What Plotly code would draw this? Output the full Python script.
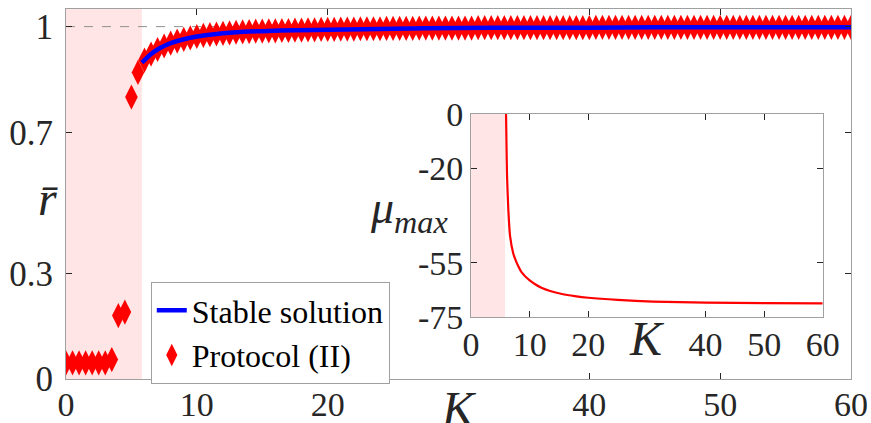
import plotly.graph_objects as go

# ---------------- data ----------------
K_protocol = [i * 0.5 for i in range(121)]  # 0, 0.5, ..., 60
r_protocol = [
    0.046, 0.046, 0.046, 0.046, 0.046, 0.046, 0.046, 0.055,   # 0 .. 3.5
    0.180, 0.190, 0.800, 0.870,                               # 4 .. 5.5
    0.905, 0.922, 0.935, 0.945, 0.953, 0.959, 0.964, 0.968,   # 6 .. 9.5
    0.972, 0.975, 0.977, 0.979, 0.981, 0.982, 0.984, 0.985,   # 10 .. 13.5
    0.986, 0.987, 0.987, 0.988, 0.988, 0.989, 0.989, 0.990,   # 14 .. 17.5
    0.990, 0.991, 0.991, 0.992, 0.992, 0.992, 0.993, 0.993,   # 18 .. 21.5
    0.993, 0.994, 0.994, 0.994, 0.994, 0.995, 0.995, 0.995,   # 22 .. 25.5
    0.995, 0.995, 0.996, 0.996, 0.996, 0.996, 0.996, 0.996,   # 26 .. 29.5
    0.996, 0.996, 0.996, 0.997, 0.997, 0.997, 0.997, 0.997,   # 30 .. 33.5
    0.997, 0.997, 0.997, 0.997, 0.997, 0.997, 0.997, 0.997,   # 34 .. 37.5
    0.997, 0.997, 0.997, 0.997, 0.997, 0.998, 0.998, 0.998,   # 38 .. 41.5
    0.998, 0.998, 0.998, 0.998, 0.998, 0.998, 0.998, 0.998,   # 42 .. 45.5
    0.998, 0.998, 0.998, 0.998, 0.998, 0.998, 0.998, 0.998,   # 46 .. 49.5
    0.998, 0.998, 0.998, 0.998, 0.998, 0.998, 0.998, 0.998,   # 50 .. 53.5
    0.998, 0.998, 0.998, 0.998, 0.998, 0.998, 0.998, 0.998,   # 54 .. 57.5
    0.998, 0.998, 0.998, 0.998, 0.998,                        # 58 .. 60
]

K_stable = [5.8, 6.0, 6.5, 7.0, 7.5, 8.0, 9.0, 10.0, 11.0, 12.0, 13.0, 14.0,
            15.0, 17.5, 20.0, 25.0, 30.0, 35.0, 40.0, 45.0, 50.0, 55.0, 60.0]
r_stable = [0.898, 0.905, 0.922, 0.935, 0.945, 0.953, 0.964, 0.972, 0.977,
            0.981, 0.984, 0.986, 0.987, 0.990, 0.991, 0.994, 0.996, 0.997,
            0.997, 0.998, 0.998, 0.998, 0.998]

K_mu = [5.97, 6.05, 6.14, 6.36, 6.65, 7.2, 7.6, 8.0, 8.64, 10.0, 11.0, 12.0,
        13.5, 15.5, 17.7, 20.0, 25.0, 31.0, 40.0, 50.0, 60.0]
mu_max = [0.0, -12.0, -23.0, -35.5, -45.0, -51.5, -54.0, -56.0, -58.5, -61.5,
          -63.0, -64.2, -65.4, -66.5, -67.3, -67.9, -68.7, -69.3, -69.7,
          -69.9, -70.0]

unstable_K = [0, 5.8]

main_xticks = [0, 10, 20, 40, 50, 60]
main_yticks = [0, 0.3, 0.7, 1]
main_yticktext = ["0", "0.3", "0.7", "1"]
inset_xticks = [0, 10, 20, 40, 50, 60]
inset_yticks = [0, -20, -55, -75]
inset_yticktext = ["0", "-20", "-55", "-75"]

# ---------------- figure ----------------
FONT = "Liberation Serif"
TXT = "#262626"
FRAME = "#a0a0a0"

fig = go.Figure()

fig.add_trace(go.Scatter(
    x=K_protocol, y=r_protocol, mode="markers", name="Protocol (II)",
    marker=dict(symbol="diamond-tall", size=18, color="#ff0000", line=dict(width=0)),
    legendrank=2, xaxis="x", yaxis="y"))

fig.add_trace(go.Scatter(
    x=K_stable, y=r_stable, mode="lines", name="Stable solution",
    line=dict(color="#0000ff", width=4.5, shape="spline", smoothing=0.8),
    legendrank=1, xaxis="x", yaxis="y"))

fig.add_trace(go.Scatter(
    x=K_mu, y=mu_max, mode="lines", showlegend=False,
    line=dict(color="#ff0000", width=2.2, shape="spline", smoothing=0.6),
    xaxis="x2", yaxis="y2"))

axis_common = dict(showgrid=False, zeroline=False, showline=True, linecolor=FRAME,
                   linewidth=1, mirror="ticks", ticks="inside", ticklen=6,
                   tickcolor=TXT, tickwidth=1, automargin=False)

fig.update_layout(
    width=871, height=423,
    margin=dict(l=66, r=20, t=9, b=44, autoexpand=False),
    plot_bgcolor="white", paper_bgcolor="white",
    font=dict(family=FONT, color=TXT),
    xaxis=dict(domain=[0, 1], range=[0, 60], tickvals=main_xticks,
               ticklabelstandoff=-5,
               tickfont=dict(size=34, family=FONT, color=TXT), **axis_common),
    yaxis=dict(domain=[0, 1], range=[0, 1.05], tickvals=main_yticks,
               ticktext=main_yticktext, ticklabelstandoff=5,
               tickfont=dict(size=35, family=FONT, color=TXT), **axis_common),
    xaxis2=dict(domain=[0.516, 0.964], anchor="y2", range=[0, 60],
                tickvals=inset_xticks, ticklabelstandoff=-3,
                tickfont=dict(size=34, family=FONT, color=TXT), **axis_common),
    yaxis2=dict(domain=[0.1676, 0.716], anchor="x2", range=[-75, 0],
                tickvals=inset_yticks, ticktext=inset_yticktext,
                tickfont=dict(size=34, family=FONT, color=TXT), **axis_common),
    legend=dict(x=0.108, y=0.262, xanchor="left", yanchor="top",
                bgcolor="white", bordercolor=FRAME, borderwidth=1,
                font=dict(size=32, family=FONT, color="black"),
                itemwidth=30, tracegroupgap=0),
    showlegend=True,
)

fig.add_shape(type="rect", xref="x", yref="y", x0=unstable_K[0], x1=unstable_K[1],
              y0=0, y1=1.05, fillcolor="rgba(255,0,0,0.1)", line=dict(width=0),
              layer="below")
fig.add_shape(type="rect", xref="x2", yref="y2", x0=unstable_K[0], x1=unstable_K[1],
              y0=-75, y1=0, fillcolor="rgba(255,0,0,0.1)", line=dict(width=0),
              layer="below")
fig.add_shape(type="line", xref="x", yref="y", x0=0, x1=60, y0=1, y1=1,
              line=dict(color="#909090", width=1, dash="dash"), layer="below")

fig.add_annotation(x=30, xref="x", y=-0.08, yref="paper", text="<i>K</i>",
                   showarrow=False, font=dict(size=48, family=FONT, color=TXT),
                   yanchor="middle")
fig.add_annotation(x=30, xref="x2", y=0.11, yref="paper", text="<i>K</i>",
                   showarrow=False, font=dict(size=48, family=FONT, color=TXT),
                   yanchor="middle")
fig.add_annotation(x=-0.038, xref="paper", y=0.489, yref="paper", text="<i>r\u0304</i>",
                   showarrow=False, font=dict(size=48, family=FONT, color=TXT),
                   yanchor="middle")
fig.add_annotation(x=0.385, xref="paper", y=0.455, yref="paper",
                   text="<i>μ</i><sub><i>max</i></sub>", xanchor="left",
                   showarrow=False, font=dict(size=46, family=FONT, color=TXT),
                   yanchor="middle")

fig.write_html("out.html", config={"displayModeBar": False},
               post_script="document.body.style.margin='0';document.body.style.overflow='hidden';")
